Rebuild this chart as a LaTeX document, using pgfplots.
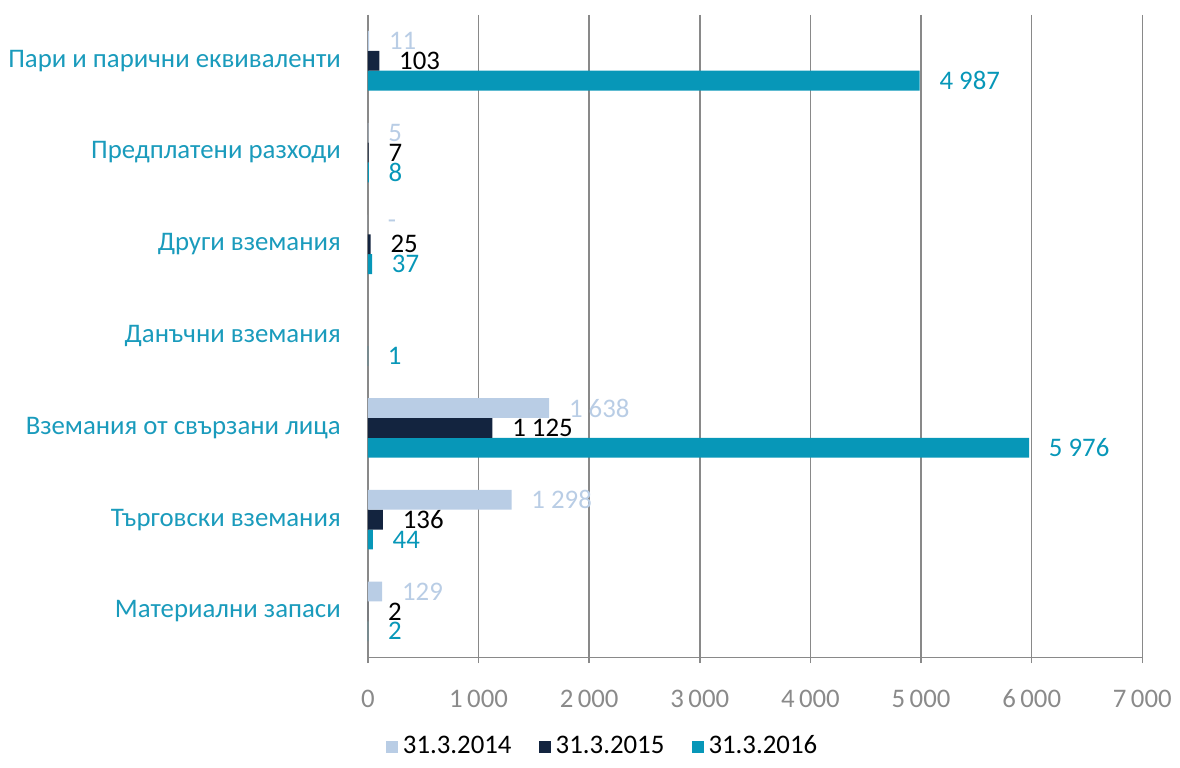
\documentclass[border=0pt]{standalone}
\usepackage{pgfplots}
\pgfplotsset{compat=1.18}
\usepackage{fontspec}
\setmainfont{Carlito}
\definecolor{cLight}{HTML}{B9CDE5}
\definecolor{cDark}{HTML}{13243F}
\definecolor{cTeal}{HTML}{0797B8}
\definecolor{cTealTxt}{HTML}{1A9BBC}
\definecolor{cAxis}{HTML}{898989}
\definecolor{cTick}{HTML}{8A8A8A}
\begin{document}
\begin{tikzpicture}
\begin{axis}[
  scale only axis,
  width=312pt, height=258.8pt,
  xbar=0pt, bar width=8pt,
  xmin=0, xmax=7000,
  ymin=-0.5, ymax=6.5,
  y dir=reverse,
  axis x line=bottom, axis y line=left,
  axis line style={draw=cAxis, line width=0.6pt, -},
  xtick={0,1000,...,7000},
  xmajorgrids,
  grid style={draw=cAxis, line width=0.6pt},
  tick align=outside,
  major tick length=2.4pt,
  xtick style={draw=cAxis, line width=0.6pt},
  font=\fontsize{10.8}{13}\selectfont,
  xticklabel style={text=cTick, yshift=-7.2pt},
  /pgf/number format/.cd, 1000 sep={\,}, assume math mode=true, /pgfplots/.cd,
  ytick={0,...,6},
  yticklabels={Пари и парични еквиваленти, Предплатени разходи, Други вземания, Данъчни вземания, Вземания от свързани лица, Търговски вземания, Материални запаси},
  yticklabel style={text=cTealTxt, xshift=-5pt},
  ytick style={draw=none},
  extra y ticks={-0.5,0.5,...,6.5},
  extra y tick labels={},
  extra y tick style={major tick length=2.8pt, tick style={draw=cAxis, line width=0.6pt}},
  point meta=explicit symbolic,
  nodes near coords,
  nodes near coords style={anchor=west, xshift=4.5pt, font=\fontsize{10.8}{13}\selectfont},
  legend columns=3,
  reverse legend,
  legend style={draw=none, at={(0.305,-0.139)}, anchor=center, font=\fontsize{10.8}{13}\selectfont,
    /tikz/every even column/.append style={column sep=9pt}},
  legend image code/.code={\fill[#1] (0pt,-2.4pt) rectangle (4.8pt,2.4pt);},
]
\addplot[fill=cTeal, draw=none, every node near coord/.append style={text=cTeal}] coordinates {
(4987,0) [4~987]
(8,1) [8]
(37,2) [37]
(1,3) [1]
(5976,4) [5~976]
(44,5) [44]
(2,6) [2]
};
\addplot[fill=cDark, draw=none, every node near coord/.append style={text=black}] coordinates {
(103,0) [103]
(7,1) [7]
(25,2) [25]
(1125,4) [1~125]
(136,5) [136]
(2,6) [2]
};
\addplot[fill=cLight, draw=none, every node near coord/.append style={text=cLight}] coordinates {
(11,0) [11]
(5,1) [5]
(0,2) [-]
(1638,4) [1~638]
(1298,5) [1~298]
(129,6) [129]
};
\legend{31.3.2016, 31.3.2015, 31.3.2014}
\end{axis}
\path ([xshift=-146.4pt,yshift=-40.8pt]current axis.south west) rectangle ([xshift=13.6pt,yshift=6pt]current axis.north east);
\end{tikzpicture}
\end{document}
